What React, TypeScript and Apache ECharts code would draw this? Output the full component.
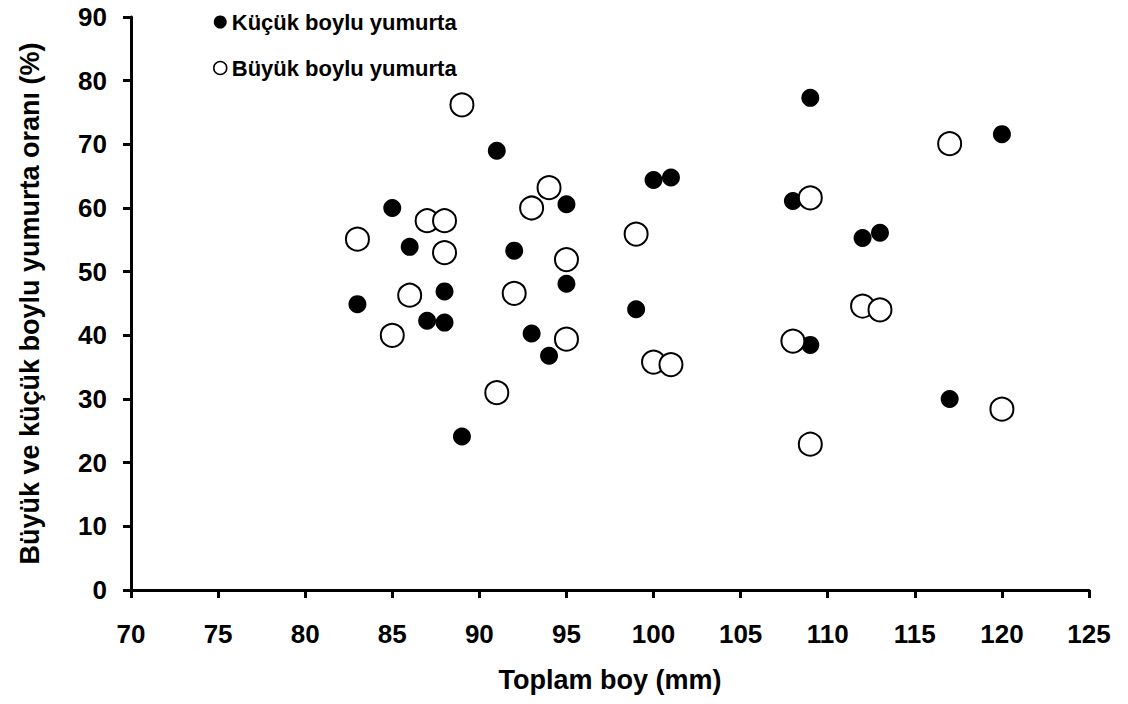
import React, { useEffect, useRef } from "react";
import * as echarts from "echarts";

const xTitle = "Toplam boy (mm)";
const yTitle = "Büyük ve küçük boylu yumurta oranı (%)";
const smallName = "Küçük boylu yumurta";
const largeName = "Büyük boylu yumurta";

// [toplam boy (mm), oran (%)]
const smallEggs: [number, number][] = [
  [83, 44.9], [85, 60.0], [86, 53.9], [87, 42.3], [88, 46.9], [88, 42.0],
  [89, 24.1], [91, 69.0], [92, 53.3], [93, 40.3], [94, 36.8], [95, 60.6],
  [95, 48.1], [99, 44.1], [100, 64.4], [101, 64.8], [108, 61.1], [109, 77.3],
  [109, 38.5], [112, 55.3], [113, 56.1], [117, 30.0], [120, 71.6],
];

const largeEggs: [number, number][] = [
  [83, 55.1], [85, 40.0], [86, 46.3], [87, 58.0], [88, 58.0], [88, 53.0],
  [89, 76.2], [91, 31.0], [92, 46.6], [93, 60.0], [94, 63.2], [95, 51.9],
  [95, 39.4], [99, 55.9], [100, 35.8], [101, 35.4], [108, 39.1], [109, 61.6],
  [109, 22.9], [112, 44.6], [113, 44.0], [117, 70.1], [120, 28.4],
];

const FONT = "'Liberation Sans', Arial, Helvetica, sans-serif";

export default function App() {
  const ref = useRef<HTMLDivElement>(null);

  useEffect(() => {
    if (!ref.current) return;
    const chart = echarts.init(ref.current, null, { renderer: "svg" });
    const axisCommon = {
      axisLine: { show: true, lineStyle: { color: "#000", width: 3 } },
      axisTick: { show: true, inside: false, length: 8, lineStyle: { color: "#000", width: 3 } },
      splitLine: { show: false },
      axisLabel: { color: "#000", fontSize: 26, fontWeight: "bold", fontFamily: FONT },
      nameTextStyle: { color: "#000", fontSize: 27, fontWeight: "bold", fontFamily: FONT },
    };
    chart.setOption({
      animation: false,
      backgroundColor: "#fff",
      grid: { left: 131, right: 39, top: 17, bottom: 114, containLabel: false, outerBoundsMode: "none" },
      legend: {
        orient: "vertical",
        left: 208,
        top: 6,
        itemWidth: 13,
        itemHeight: 13,
        itemGap: 24,
        textStyle: { color: "#000", fontSize: 22, fontWeight: "bold", fontFamily: FONT },
        data: [
          { name: smallName, icon: "circle" },
          { name: largeName, icon: "circle", itemStyle: { borderWidth: 1.5 } },
        ],
      },
      xAxis: {
        type: "value",
        min: 70,
        max: 125,
        interval: 5,
        name: xTitle,
        nameLocation: "middle",
        nameGap: 76,
        ...axisCommon,
        axisLabel: { ...axisCommon.axisLabel, margin: 31 },
      },
      yAxis: {
        type: "value",
        min: 0,
        max: 90,
        interval: 10,
        name: yTitle,
        nameLocation: "middle",
        nameGap: 88,
        nameRotate: 90,
        ...axisCommon,
        axisLabel: { ...axisCommon.axisLabel, margin: 24 },
      },
      series: [
        {
          name: smallName,
          type: "scatter",
          data: smallEggs,
          symbol: "circle",
          symbolSize: 18,
          itemStyle: { color: "#000", opacity: 1 },
          z: 2,
        },
        {
          name: largeName,
          type: "scatter",
          data: largeEggs,
          symbol: "circle",
          symbolSize: 23,
          itemStyle: { color: "#fff", borderColor: "#000", borderWidth: 2, opacity: 1 },
          z: 3,
        },
      ],
    });
    return () => chart.dispose();
  }, []);

  return <div ref={ref} style={{ width: 1128, height: 704, margin: -8 }} />;
}
